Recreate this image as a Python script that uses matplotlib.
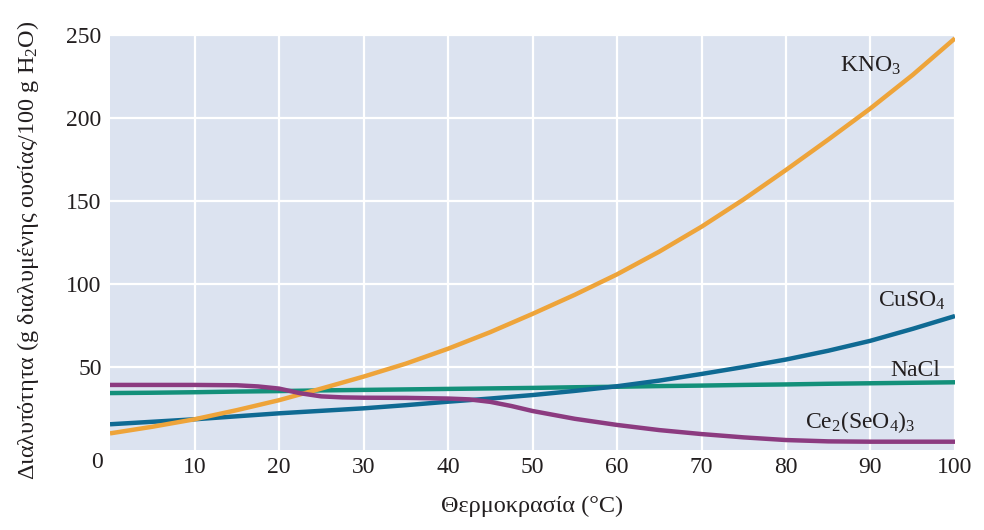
import matplotlib
matplotlib.use("Agg")
import matplotlib.pyplot as plt

# ── 資料 ─────────────────────────────────────
temp = [0, 5, 10, 15, 20, 25, 30, 35, 40, 45, 50, 55, 60, 65, 70, 75, 80, 85, 90, 95, 100]

kno3 = [10, 14, 18.5, 24, 30, 37, 44.2, 52, 61, 71, 82, 93.5, 105.8, 119.5, 134.5,
        151, 168.7, 187, 205.8, 226, 248]
cuso4 = [15.5, 17, 18.5, 20.3, 22.1, 23.6, 25.1, 27, 29.1, 31, 33.1, 35.6, 38.4,
         41.8, 45.8, 50, 54.5, 59.8, 65.8, 73, 80.7]
nacl = [34.3, 34.5, 34.8, 35.2, 35.5, 35.9, 36.2, 36.5, 36.8, 37.1, 37.4, 37.8,
        38.1, 38.5, 38.8, 39.2, 39.5, 39.9, 40.2, 40.5, 40.8]

temp_ce = [0, 5, 10, 15, 17.5, 20, 22.5, 25, 27.5, 30, 35, 40, 42.5, 45, 47.5,
           50, 55, 60, 65, 70, 75, 80, 85, 90, 95, 100]
ce2seo43 = [39.2, 39.2, 39.2, 39.0, 38.3, 37.0, 34.2, 32.3, 31.7, 31.5, 31.4, 31.0,
            30.5, 29.0, 26.5, 23.5, 18.8, 15.1, 12.0, 9.6, 7.6, 6.0, 5.2, 5.0, 5.0, 5.0]

x_ticks = [10, 20, 30, 40, 50, 60, 70, 80, 90, 100]
y_ticks = [50, 100, 150, 200, 250]

BG = "#dce3f0"
C_KNO3 = "#eea43a"
C_CUSO4 = "#0f6a93"
C_NACL = "#13907a"
C_CE = "#8c3b80"
TXT = "#231f20"

plt.rcParams["font.family"] = ["Liberation Serif", "DejaVu Serif"]
plt.rcParams["mathtext.fontset"] = "custom"
plt.rcParams["mathtext.rm"] = "Liberation Serif"
plt.rcParams["mathtext.it"] = "Liberation Serif:italic"
plt.rcParams["mathtext.default"] = "rm"

FS = 17        # 刻度 / 曲線標籤
FS_LAB = 17.5  # 座標軸標題

fig = plt.figure(figsize=(9.84, 5.30), dpi=100)
ax = fig.add_axes([110 / 984, 1 - 450 / 530, 845 / 984, 415 / 530])
ax.set_facecolor(BG)
for s in ax.spines.values():
    s.set_visible(False)

ax.set_xlim(0, 100)
ax.set_ylim(0, 250)
ax.set_xticks(x_ticks)
ax.set_yticks(y_ticks)
ax.grid(True, color="white", linewidth=1.6)
ax.set_axisbelow(True)
ax.tick_params(length=0, labelsize=FS, labelcolor=TXT)
ax.tick_params(axis="x", pad=5)
ax.tick_params(axis="y", pad=6)

lw = 3.2
ax.plot(temp, nacl, color=C_NACL, lw=lw, solid_joinstyle="round", solid_capstyle="butt")
ax.plot(temp, cuso4, color=C_CUSO4, lw=lw, solid_joinstyle="round", solid_capstyle="butt")
ax.plot(temp, kno3, color=C_KNO3, lw=lw, solid_joinstyle="round", solid_capstyle="butt")
ax.plot(temp_ce, ce2seo43, color=C_CE, lw=lw, solid_joinstyle="round", solid_capstyle="butt")

# 曲線標籤
ax.text(86.4, 228, r"KNO$_3$", fontsize=FS, color=TXT, va="baseline")
ax.text(90.9, 86.3, r"CuSO$_4$", fontsize=FS, color=TXT, va="baseline")
ax.text(92.3, 44.6, "NaCl", fontsize=FS, color=TXT, va="baseline")
ax.text(82.2, 13.1, r"Ce$_2$(SeO$_4$)$_3$", fontsize=FS, color=TXT, va="baseline")

# 左下角共用的 0
ax.annotate("0", xy=(0, 0), xytext=(-13, -13), textcoords="offset pixels",
            ha="center", va="center", fontsize=FS, color=TXT, annotation_clip=False)

ax.set_xlabel("Θερμοκρασία (°C)", fontsize=FS_LAB, color=TXT, va="center")
ax.xaxis.set_label_coords(0.5, -0.137)
ax.set_ylabel(r"Διαλυτότητα (g διαλυμένης ουσίας/100 g H$_2$O)", fontsize=FS_LAB,
              color=TXT, va="center")
ax.yaxis.set_label_coords(-0.097, 0.482)

fig.savefig("out.png", dpi=100, facecolor="white")
